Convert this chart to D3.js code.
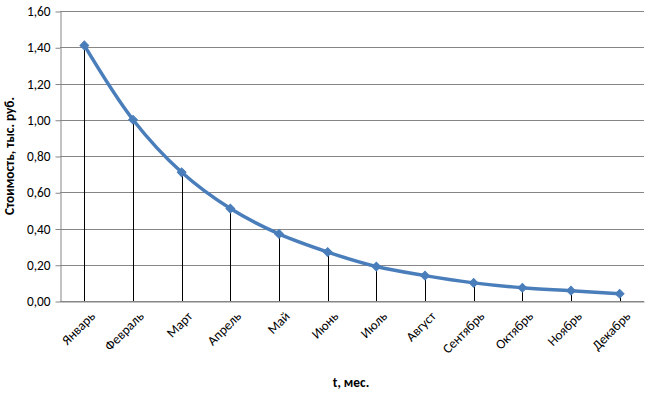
<!DOCTYPE html>
<html>
<head>
<meta charset="utf-8">
<script src="https://cdn.jsdelivr.net/npm/d3@7"></script>
<style>
  body { margin: 0; background: #fff; }
  text { font-family: Carlito, Calibri, "Open Sans", sans-serif; }
</style>
</head>
<body>
<svg id="chart"></svg>
<script>
const width = 652;
const height = 397;
const margin = {top: 11, right: 8, bottom: 96, left: 60};

const months = ['Январь', 'Февраль', 'Март', 'Апрель', 'Май', 'Июнь',
    'Июль', 'Август', 'Сентябрь', 'Октябрь', 'Ноябрь', 'Декабрь'];
const cost = [1.41, 1.00, 0.71, 0.51, 0.37, 0.27, 0.19, 0.14, 0.10, 0.073, 0.057, 0.040];
const yTicks = [0, 0.2, 0.4, 0.6, 0.8, 1.0, 1.2, 1.4, 1.6];

const svg = d3.select('#chart')
    .attr('width', width)
    .attr('height', height);

const x = d3.scaleBand().domain(months).range([margin.left, width - margin.right]);
const y = d3.scaleLinear().domain([0, 1.6]).range([height - margin.bottom, margin.top]);

const fmt = v => v.toFixed(2).replace('.', ',');
const fontSize = 13.33;

// grid
svg.append('g')
    .selectAll('line')
    .data(yTicks)
    .enter().append('line')
    .attr('x1', margin.left)
    .attr('x2', width - margin.right)
    .attr('y1', d => Math.round(y(d)) + 0.5)
    .attr('y2', d => Math.round(y(d)) + 0.5)
    .attr('stroke', '#868686');

// y axis
const yAxis = svg.append('g')
    .attr('transform', `translate(${margin.left + 0.5}, 0)`)
    .call(d3.axisLeft(y).tickValues(yTicks).tickFormat(fmt).tickSize(5).tickSizeOuter(0));
yAxis.select('.domain').attr('stroke', '#868686');
yAxis.selectAll('.tick line').attr('stroke', '#868686')
    .attr('transform', 'translate(0,0.5)');
yAxis.selectAll('.tick text')
    .attr('font-size', fontSize).attr('fill', '#000').attr('x', -10).attr('dy', '0.35em');

// x axis
const xAxis = svg.append('g')
    .attr('transform', `translate(0, ${Math.round(y(0)) + 0.5})`)
    .call(d3.axisBottom(x).tickSize(0).tickSizeOuter(0));
xAxis.select('.domain').attr('stroke', '#868686');
xAxis.selectAll('.tick text')
    .attr('font-size', fontSize).attr('fill', '#000')
    .attr('text-anchor', 'end')
    .attr('transform', 'translate(5, 9) rotate(-45)')
    .attr('y', 0).attr('dy', '0.7em');

const cx = d => x(d) + x.bandwidth() / 2;

// drop lines
svg.append('g')
    .selectAll('line')
    .data(months)
    .enter().append('line')
    .attr('x1', d => Math.round(cx(d)) + 0.5)
    .attr('x2', d => Math.round(cx(d)) + 0.5)
    .attr('y1', (d, i) => y(cost[i]))
    .attr('y2', y(0))
    .attr('stroke', '#000');

// line
const line = d3.line()
    .x((d, i) => cx(months[i]))
    .y(d => y(d))
    .curve(d3.curveCatmullRom.alpha(0.5));

svg.append('path')
    .datum(cost)
    .attr('fill', 'none')
    .attr('stroke', '#4a7ebb')
    .attr('stroke-width', 3.5)
    .attr('stroke-linejoin', 'round')
    .attr('d', line);

// markers (square turned 45 degrees)
svg.append('g')
    .selectAll('path')
    .data(cost)
    .enter().append('path')
    .attr('d', d3.symbol().type(d3.symbolSquare).size(38))
    .attr('transform', (d, i) => `translate(${cx(months[i])}, ${y(d)}) rotate(45)`)
    .attr('fill', '#4a7ebb')
    .attr('stroke', '#4a7ebb');

// titles
svg.append('text')
    .attr('transform', `translate(9, ${(y(0) + y(1.6)) / 2}) rotate(-90)`)
    .attr('text-anchor', 'middle')
    .attr('dy', '0.35em')
    .attr('font-size', fontSize)
    .attr('font-weight', 'bold')
    .text('Стоимость, тыс. руб.');

svg.append('text')
    .attr('x', 351)
    .attr('y', 387)
    .attr('text-anchor', 'middle')
    .attr('font-size', fontSize)
    .attr('font-weight', 'bold')
    .text('t, мес.');
</script>
</body>
</html>
